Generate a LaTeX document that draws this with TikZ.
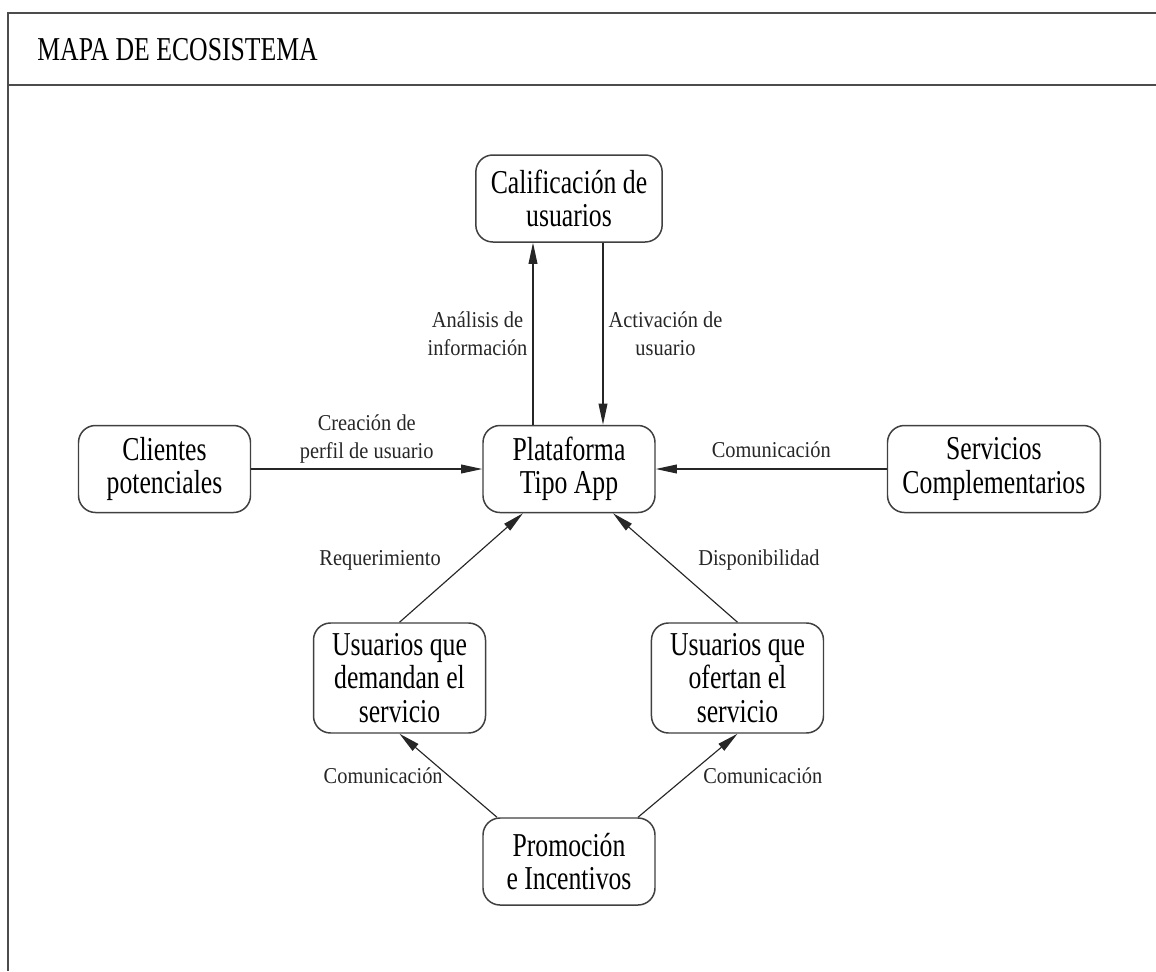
\documentclass[tikz,border=0pt]{standalone}
\usepackage{fontspec}
\setmainfont{Liberation Serif}
\newfontfamily\boxfont{Liberation Serif}[FakeStretch=0.77]
\newfontfamily\edgefont{Liberation Serif}[FakeStretch=0.9]
\usepackage{tikz}
\usetikzlibrary{arrows.meta, positioning}

\begin{document}
\begin{tikzpicture}[
    node distance=2.2cm and 4.6cm,
    font=\boxfont\fontsize{19}{19}\selectfont,
    >={Triangle[length=12pt, width=5pt]},
    box/.style={rectangle, draw=black!75, line width=0.85pt, rounded corners=0.34cm, fill=white, align=center, minimum height=1.74cm, minimum width=3.44cm, inner xsep=0.3cm},
    tallbox/.style={box, minimum height=2.2cm},
    line/.style={draw, ->, line width=0.65pt, black!85},
    lbl/.style={font=\edgefont\fontsize{12.9}{15.9}\selectfont, align=center, inner sep=0.1cm}
]
\useasboundingbox (-11.38,-10.04) rectangle (11.74,9.38);

% Frame
\draw[black!70, line width=0.85pt] (11.74,9.12) -- (-11.22,9.12) -- (-11.22,-10.04);
\draw[black!70, line width=0.85pt] (-11.22,7.68) -- (11.74,7.68);
\node[anchor=base west, inner sep=0pt] (title) at (-10.64,8.16) {MAPA DE ECOSISTEMA};

% Nodes
\node[box] (plat) {Plataforma\\Tipo App};
\node[box, above=3.64cm of plat] (calif) {Calificación de\\usuarios};
\node[box, left=4.62cm of plat] (clientes) {Clientes\\potenciales};
\node[box, right=4.62cm of plat] (servicios) {Servicios\\Complementarios};
\node[tallbox, below left=2.18cm and -0.08cm of plat] (demanda) {Usuarios que\\demandan el\\servicio};
\node[tallbox, below right=2.18cm and -0.1cm of plat] (oferta) {Usuarios que\\ofertan el\\servicio};
\node[box, below=6.08cm of plat] (promo) {Promoción\\e Incentivos};

% Edges
\draw[line] ([xshift=-0.72cm]plat.north) -- node[lbl, midway, left] {Análisis de\\información} ([xshift=-0.72cm]calif.south);
\draw[line] ([xshift=0.68cm]calif.south) -- node[lbl, midway, right] {Activación de\\usuario} ([xshift=0.68cm]plat.north);
\draw[line] (clientes) -- node[lbl, midway, above] {Creación de\\perfil de usuario} (plat);
\draw[line] (servicios) -- node[lbl, midway, above, yshift=0.12cm] {Comunicación} (plat);
\draw[line] (demanda.north) -- node[lbl, midway, left=0.3cm, yshift=0.15cm] {Requerimiento} ([xshift=-0.92cm]plat.south);
\draw[line] (oferta.north) -- node[lbl, midway, right=0.35cm, yshift=0.15cm] {Disponibilidad} ([xshift=0.88cm]plat.south);

% Promo Edges
\draw[line] ([xshift=-1.44cm]promo.north) -- node[lbl, midway, left] {Comunicación} (demanda.south);
\draw[line] ([xshift=1.38cm]promo.north) -- node[lbl, midway, right=0.2cm] {Comunicación} (oferta.south);

\end{tikzpicture}
\end{document}
